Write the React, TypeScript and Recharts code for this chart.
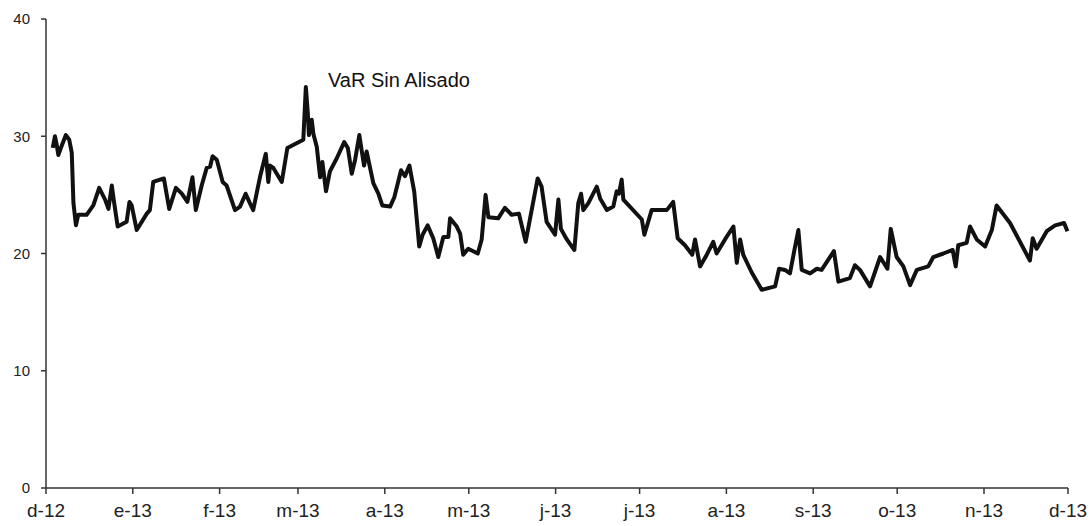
import React from "react";
import { LineChart, Line, XAxis, YAxis } from "recharts";

// days since 1 Dec 2012
const days: number[] = [
  2.4, 3.2, 3.8, 4.4, 5.3, 7.1, 8.3, 9.2, 9.8, 10.7, 11.5, 14.5, 16.9, 19.0, 21.1, 22.3, 23.5, 24.3, 25.6, 28.8,
  29.8, 30.6, 32.4, 36.0, 37.1, 38.3, 40.7, 42.1, 44.0, 46.4, 48.5, 50.5, 52.3, 53.5, 55.6, 57.4, 58.6, 59.5, 61.0, 63.1,
  64.5, 67.5, 69.3, 71.3, 72.6, 74.0, 76.4, 78.5, 79.4, 80.0, 81.2, 84.2, 86.2, 91.9, 92.8, 93.5, 93.9, 94.9, 95.5, 96.7,
  97.9, 98.7, 100.0, 101.4, 103.8, 106.5, 107.8, 109.2, 110.4, 111.9, 112.8, 113.6, 114.5, 116.9, 118.7, 120.1, 122.9, 124.4, 126.8, 128.2,
  129.8, 131.5, 133.3, 134.5, 136.3, 138.3, 140.1, 141.9, 143.7, 144.3, 146.7, 147.9, 149.0, 150.8, 154.2, 155.6, 157.0, 158.0, 161.5, 163.9,
  166.3, 168.9, 171.3, 175.6, 177.0, 178.8, 181.8, 183.0, 183.9, 186.0, 188.7, 190.1, 191.1, 191.9, 193.7, 196.7, 197.9, 200.3, 202.6, 203.8,
  204.6, 205.6, 206.2, 212.8, 213.7, 216.3, 218.7, 221.7, 224.0, 225.6, 228.2, 230.8, 231.8, 233.6, 236.0, 238.3, 239.5, 242.5, 245.5, 246.7,
  247.9, 249.0, 252.0, 255.6, 260.4, 261.8, 263.9, 265.7, 267.3, 268.7, 269.9, 272.9, 275.3, 277.0, 281.4, 283.0, 287.1, 288.9, 290.7, 294.3,
  297.9, 300.5, 301.7, 303.8, 306.2, 308.6, 311.0, 315.1, 316.9, 320.5, 323.8, 324.9, 325.8, 328.8, 330.0, 332.4, 335.4, 337.8, 339.5, 344.3,
  351.4, 352.4, 353.8, 357.4, 360.4, 363.6, 364.8,
];

const varSinAlisado: number[] = [
  29.0, 30.0, 29.3, 28.4, 29.0, 30.1, 29.7, 28.6, 24.3, 22.4, 23.3, 23.3, 24.1, 25.6, 24.6, 23.8, 25.8, 24.4, 22.3, 22.7,
  24.4, 24.1, 22.0, 23.4, 23.7, 26.1, 26.3, 26.4, 23.8, 25.6, 25.1, 24.4, 26.5, 23.7, 25.8, 27.3, 27.4, 28.3, 28.0, 26.1,
  25.8, 23.7, 24.0, 25.1, 24.4, 23.7, 26.5, 28.5, 26.1, 27.5, 27.3, 26.1, 29.0, 29.7, 34.2, 32.0, 30.1, 31.4, 30.2, 29.1,
  26.5, 27.8, 25.3, 27.0, 28.1, 29.5, 29.0, 26.8, 28.0, 30.1, 28.7, 27.5, 28.7, 26.0, 25.1, 24.1, 24.0, 24.8, 27.1, 26.6,
  27.5, 25.3, 20.6, 21.6, 22.4, 21.3, 19.7, 21.4, 21.4, 23.0, 22.3, 21.7, 19.9, 20.4, 20.0, 21.2, 25.0, 23.1, 23.0, 23.9,
  23.3, 23.4, 21.0, 26.4, 25.7, 22.7, 21.6, 24.6, 22.1, 21.2, 20.3, 24.3, 25.1, 23.7, 24.3, 25.7, 24.7, 23.7, 24.0, 25.3,
  25.1, 26.3, 24.6, 22.9, 21.6, 23.7, 23.7, 23.7, 24.4, 21.3, 20.7, 19.9, 21.2, 18.9, 19.9, 21.0, 20.0, 21.2, 22.3, 19.2,
  21.2, 19.9, 18.4, 16.9, 17.2, 18.7, 18.6, 18.3, 20.3, 22.0, 18.6, 18.3, 18.7, 18.6, 20.2, 17.6, 17.9, 19.0, 18.6, 17.2,
  19.7, 18.7, 22.1, 19.7, 18.9, 17.3, 18.6, 18.9, 19.7, 20.0, 20.3, 18.9, 20.7, 20.9, 22.3, 21.2, 20.6, 22.0, 24.1, 22.6,
  19.4, 21.3, 20.4, 21.9, 22.4, 22.6, 21.9,
];

const monthTicks: number[] = [0, 31, 62, 90, 121, 151, 182, 212, 243, 274, 304, 335, 365];
const monthLabels: string[] = ["d-12", "e-13", "f-13", "m-13", "a-13", "m-13", "j-13", "j-13", "a-13", "s-13", "o-13", "n-13", "d-13"];
const yTicks: number[] = [0, 10, 20, 30, 40];
const seriesName = "VaR Sin Alisado";

const data = days.map((d, i) => ({ day: d, value: varSinAlisado[i] }));

const FONT = '"Liberation Sans", Arial, sans-serif';

export default function App() {
  return (
    <div style={{ position: "absolute", left: 0, top: 0, width: 1090, height: 526, background: "#fff" }}>
      <LineChart
        width={1090}
        height={526}
        data={data}
        margin={{ top: 19, right: 22, bottom: 2, left: 6 }}
      >
        <XAxis
          dataKey="day"
          type="number"
          domain={[0, 365]}
          ticks={monthTicks}
          tickFormatter={(v: number) => monthLabels[monthTicks.indexOf(v)] ?? ""}
          interval={0}
          height={36}
          tickSize={6}
          tickMargin={10}
          stroke="#333"
          strokeWidth={1.5}
          tick={{ fontSize: 19, fill: "#222", fontFamily: FONT }}
        />
        <YAxis
          type="number"
          domain={[0, 40]}
          ticks={yTicks}
          width={40}
          tickSize={5}
          tickMargin={11}
          stroke="#333"
          strokeWidth={1.5}
          tick={{ fontSize: 15, fill: "#222", fontFamily: FONT }}
        />
        <Line
          type="linear"
          dataKey="value"
          name={seriesName}
          stroke="#111"
          strokeWidth={4}
          strokeLinejoin="round"
          dot={false}
          isAnimationActive={false}
        />
      </LineChart>
      <div
        style={{
          position: "absolute",
          left: 328,
          top: 70,
          fontFamily: FONT,
          fontSize: 20,
          lineHeight: 1,
          color: "#111",
          whiteSpace: "nowrap",
        }}
      >
        {seriesName}
      </div>
    </div>
  );
}
